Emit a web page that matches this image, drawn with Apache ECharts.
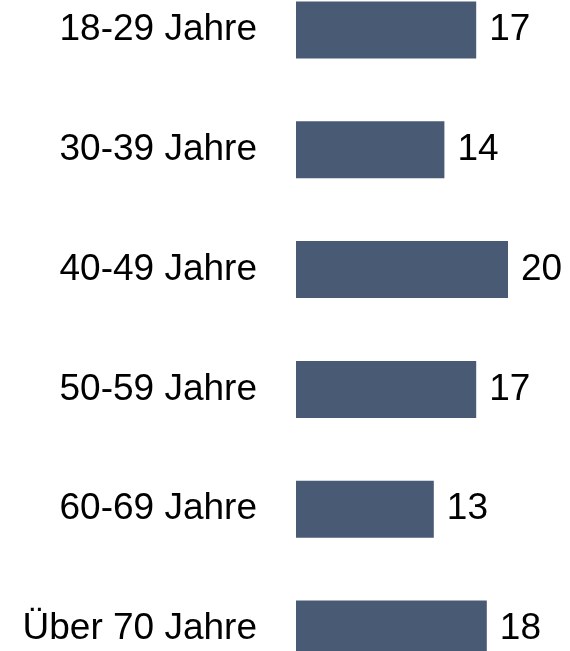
<!DOCTYPE html>
<html>
<head>
<meta charset="utf-8">
<script src="https://cdn.jsdelivr.net/npm/echarts@6/dist/echarts.min.js"></script>
<style>
  html, body { margin: 0; padding: 0; background: #ffffff; overflow: hidden; }
  body { width: 570px; height: 651px; position: relative; }
  /* the plot runs a little past the top and bottom edges of the page */
  #chart { position: absolute; left: 0; top: -30px; width: 570px; height: 719px; }
</style>
</head>
<body>
<div id="chart"></div>
<script>
// Age groups and their values
const categories = ['18-29 Jahre', '30-39 Jahre', '40-49 Jahre', '50-59 Jahre', '60-69 Jahre', 'Über 70 Jahre'];
const values = [17, 14, 20, 17, 13, 18];

const chart = echarts.init(document.getElementById('chart'), null, { renderer: 'canvas' });

const font = 'Liberation Sans, Arial, Helvetica, sans-serif';

chart.setOption({
  animation: false,
  backgroundColor: '#ffffff',
  grid: { left: 296, width: 212, top: 0, height: 719, containLabel: false },
  xAxis: {
    type: 'value',
    min: 0,
    max: 20,
    show: false
  },
  yAxis: {
    type: 'category',
    data: categories,
    inverse: true,
    axisLine: { show: false },
    axisTick: { show: false },
    splitLine: { show: false },
    axisLabel: {
      margin: 39,
      color: '#000000',
      fontSize: 37,
      fontFamily: font
    }
  },
  series: [{
    type: 'bar',
    data: values,
    barWidth: 57,
    itemStyle: { color: '#485a74' },
    label: {
      show: true,
      position: 'right',
      distance: 13,
      color: '#000000',
      fontSize: 37,
      fontFamily: font
    }
  }]
});
</script>
</body>
</html>
